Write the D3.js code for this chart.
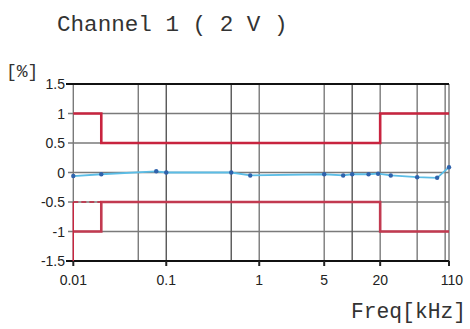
<!DOCTYPE html>
<html>
<head>
<meta charset="utf-8">
<script src="https://cdn.jsdelivr.net/npm/d3@7"></script>
<style>
  body { margin: 0; background: #fff; }
  svg { display: block; }
</style>
</head>
<body>
<div id="chart"></div>
<script>
// measured deviation, channel 1 (2 V)
var freqs = [0.01, 0.02, 0.078, 0.1, 0.5, 0.8, 5, 8, 10, 15, 19, 26, 50, 82, 110];
var deviation = [-0.06, -0.03, 0.02, 0, 0, -0.05, -0.03, -0.05, -0.03, -0.03, -0.02, -0.05, -0.08, -0.09, 0.09];

// tolerance limits
var upperFreq = [0.01, 0.02, 0.02, 20, 20, 110];
var upperLimit = [1, 1, 0.5, 0.5, 1, 1];
var lowerFreq = [0.01, 0.02, 0.02, 20, 20, 110];
var lowerLimit = [-1, -1, -0.5, -0.5, -1, -1];

var xTicks = [0.01, 0.1, 1, 5, 20, 110];
var xGrid = [0.01, 0.05, 0.1, 0.5, 1, 5, 10, 20, 50, 100, 110];
var yTicks = [1.5, 1, 0.5, 0, -0.5, -1, -1.5];

var width = 470,
    height = 329;

var svg = d3.select("#chart").append("svg")
    .attr("width", width)
    .attr("height", height);

var x = d3.scaleLog().domain([0.01, 110]).range([73.3, 449]);
var y = d3.scaleLinear().domain([-1.5, 1.5]).range([261, 84]);

var monoFont = "'Liberation Mono', 'DejaVu Sans Mono', monospace";
var sansFont = "'Liberation Sans', Arial, sans-serif";

// title + unit labels
svg.append("text")
    .attr("x", 57).attr("y", 31)
    .style("font-family", monoFont)
    .style("font-size", "22.6px")
    .style("fill", "#333")
    .text("Channel 1 ( 2 V )");

svg.append("text")
    .attr("x", 6).attr("y", 77)
    .style("font-family", monoFont)
    .style("font-size", "18px")
    .style("fill", "#333")
    .text("[%]");

svg.append("text")
    .attr("x", 351).attr("y", 318)
    .style("font-family", monoFont)
    .style("font-size", "21.3px")
    .style("fill", "#333")
    .text("Freq[kHz]");

// grid
svg.append("g")
    .selectAll("line")
    .data(yTicks.filter(d => Math.abs(d) < 1.5))
    .enter().append("line")
    .attr("x1", 68).attr("x2", 449)
    .attr("y1", d => y(d)).attr("y2", d => y(d))
    .style("stroke", "#7a7a7a")
    .style("stroke-width", 1.3);

svg.append("g")
    .selectAll("line")
    .data(xGrid)
    .enter().append("line")
    .attr("x1", d => x(d)).attr("x2", d => x(d))
    .attr("y1", 84).attr("y2", 261)
    .style("stroke", d => (d == 0.1 || d == 0.5 || d == 10) ? "#555" : "#7a7a7a")
    .style("stroke-width", 1.4);

// frame (top and bottom)
svg.append("line")
    .attr("x1", 66).attr("x2", 449).attr("y1", 84).attr("y2", 84)
    .style("stroke", "#111").style("stroke-width", 2.2);
svg.append("line")
    .attr("x1", 66).attr("x2", 449).attr("y1", 261).attr("y2", 261)
    .style("stroke", "#111").style("stroke-width", 2.2);

// y axis labels
svg.append("g")
    .selectAll("text")
    .data(yTicks)
    .enter().append("text")
    .attr("x", 65)
    .attr("y", d => y(d) + 5)
    .attr("text-anchor", "end")
    .style("font-family", sansFont)
    .style("font-size", "14px")
    .style("fill", "#222")
    .text(d => String(d));

// x axis ticks and labels
var xAxis = svg.append("g");
xAxis.selectAll("line")
    .data(xTicks)
    .enter().append("line")
    .attr("x1", d => x(d)).attr("x2", d => x(d))
    .attr("y1", 261).attr("y2", 266)
    .style("stroke", "#222").style("stroke-width", 2);
xAxis.selectAll("text")
    .data(xTicks)
    .enter().append("text")
    .attr("x", d => x(d) + (d == 110 ? 3 : 0))
    .attr("y", 285)
    .attr("text-anchor", "middle")
    .style("font-family", sansFont)
    .style("font-size", "14px")
    .style("fill", "#222")
    .text(d => d);

// limit lines
var limitLine = d3.line()
    .x(d => x(d[0]))
    .y(d => y(d[1]));

svg.append("path")
    .datum(upperFreq.map((f, i) => [f, upperLimit[i]]))
    .attr("d", limitLine)
    .style("fill", "none")
    .style("stroke", "#c8243f")
    .style("stroke-width", 2.6);

svg.append("path")
    .datum(lowerFreq.map((f, i) => [f, lowerLimit[i]]))
    .attr("d", limitLine)
    .style("fill", "none")
    .style("stroke", "#c23a50")
    .style("stroke-width", 2.6);

// left edge of the lower limit: thin vertical and dashed -0.5 step
svg.append("path")
    .datum([[0.01, -1.5], [0.01, -0.5]])
    .attr("d", limitLine)
    .style("fill", "none")
    .style("stroke", "#c8243f")
    .style("stroke-width", 1.4);

svg.append("path")
    .datum([[0.01, -0.5], [0.02, -0.5]])
    .attr("d", limitLine)
    .style("fill", "none")
    .style("stroke", "#c8243f")
    .style("stroke-width", 1.4)
    .style("stroke-dasharray", "5,3");

// measured values
var points = freqs.map((f, i) => [f, deviation[i]]);

svg.append("path")
    .datum(points)
    .attr("d", limitLine)
    .style("fill", "none")
    .style("stroke", "#5bbde6")
    .style("stroke-width", 1.8);

svg.selectAll("circle.pt")
    .data(points)
    .enter().append("circle")
    .attr("class", "pt")
    .attr("cx", d => x(d[0]))
    .attr("cy", d => y(d[1]))
    .attr("r", 2.2)
    .style("fill", "#2f62ab");
</script>
</body>
</html>
